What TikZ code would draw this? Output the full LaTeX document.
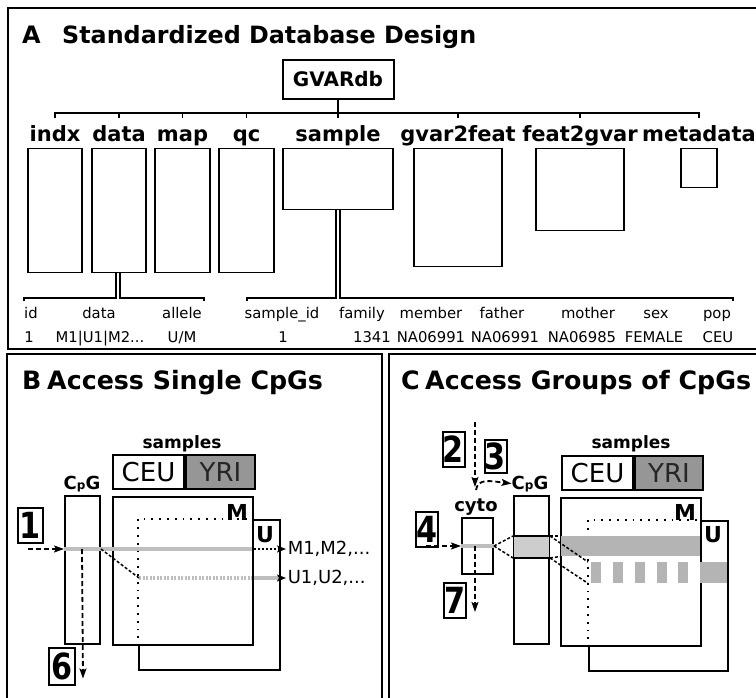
\documentclass[tikz,border=0pt]{standalone}
\usepackage{fontspec}
\setmainfont{DejaVu Sans}
\usetikzlibrary{arrows.meta, positioning, calc}

\definecolor{rowgray}{RGB}{190,190,190}
\definecolor{bandgray}{RGB}{180,180,180}
\definecolor{cellgray}{RGB}{150,150,150}
\definecolor{slicegray}{RGB}{205,205,205}

\newcommand{\fs}[1]{\fontsize{#1}{#1}\selectfont}
\newcommand{\tagnum}[1]{\scalebox{0.84}[1]{#1}}
\newcommand{\cpg}{{\fs{18}C}{\fs{12}p}{\fs{18}G}}

\tikzset{
  panel/.style={draw, line width=2pt},
  ptitle/.style={font=\fs{25.3}\bfseries, anchor=base west, inner sep=0pt},
  tname/.style={font=\fs{21}\bfseries, anchor=base, inner sep=0pt},
  tbl/.style={draw, line width=1.3pt, inner sep=0pt, anchor=north},
  link/.style={line width=1.3pt},
  col/.style={font=\fs{14.8}, anchor=base, inner sep=0pt},
  box/.style={draw, line width=2pt, inner sep=0pt},
  cell/.style={draw, line width=2pt, inner sep=0pt, minimum height=34, font=\fs{26}},
  tag/.style={font=\fs{22}\bfseries, inner sep=0pt},
  numbox/.style={draw, line width=2pt, inner sep=0pt, minimum width=22, minimum height=35,
    font=\fs{36}\bfseries},
  flow/.style={line width=1.8pt, dash pattern=on 5pt off 3pt,
    -{Stealth[length=10pt, width=7pt, inset=2pt]}},
  guide/.style={line width=1.5pt, dash pattern=on 3pt off 2pt},
  outarrow/.style={line width=1.5pt, dash pattern=on 2pt off 2pt,
    -{Stealth[length=9pt, width=7pt, inset=2pt]}},
  hidden/.style={line width=1.8pt, dash pattern=on 1.8pt off 6pt},
  mrow/.style={line width=4pt, draw=rowgray},
  urow/.style={line width=4pt, draw=rowgray},
}

\begin{document}
\begin{tikzpicture}[x=1pt, y=-1pt]
\useasboundingbox (0,0) rectangle (756,698);
\clip (0,0) rectangle (756,698);

% frames of the three panels
\draw[panel] (8,8) rectangle (770,349);
\draw[panel] (7,354) rectangle (382,712);
\draw[panel] (389,354) rectangle (770,712);

% ---------------- A: database layout
\node[ptitle, font=\fs{24}\bfseries] (letA) at (22,44) {A};
\node[ptitle, font=\fs{23.8}\bfseries] (titA) at (62,44) {Standardized Database Design};
\node[box, font=\fs{20}\bfseries, minimum width=111, minimum height=39] (gvar) at (338,79.5) {GVARdb};

\foreach \nm/\cx/\w/\h in {indx/55/54/124, data/119/54/124, map/182.5/55/124, qc/246.5/55/124,
    sample/338/110/61, gvar2feat/458/88/118, feat2gvar/580/88/82, metadata/699/36/39} {
  \node[tname] (lbl-\nm) at (\cx,142) {\nm};
  \node[tbl, minimum width=\w, minimum height=\h] (tab-\nm) at (\cx,148) {};
}

% tree from GVARdb to the tables
\coordinate (bus) at (0,113);
\draw[link] ($(tab-indx.north |- bus)+(0,5)$) -- (tab-indx.north |- bus)
  -- (tab-metadata.north |- bus) -- ++(0,5);
\foreach \nm in {data,map,qc,gvar2feat,feat2gvar}
  \draw[link] (tab-\nm.north |- bus) -- ++(0,5);
\draw[link] (gvar.south) -- ($(tab-sample.north |- bus)+(0,5)$);

% columns of data and sample
\coordinate (colD-l) at (24,301);
\coordinate (colD-r) at (204,301);
\coordinate (colS-l) at (247,301);
\coordinate (colS-r) at (733,301);
\draw[link] ($(tab-data.south)+(-3,0)$) |- ($(colD-l)+(0,-3)$) -- (colD-l);
\draw[link] ($(tab-data.south)+(1,0)$) |- ($(colD-r)+(0,-3)$) -- (colD-r);
\draw[link] ($(tab-sample.south)+(-2,0)$) |- ($(colS-l)+(0,-3)$) -- (colS-l);
\draw[link] ($(tab-sample.south)+(2,0)$) |- ($(colS-r)+(0,-3)$) -- (colS-r);

\foreach \hx/\hd/\vx/\val [count=\i] in {31/id/29/1, 99/data/100/{M1|U1|M2...}, 182/allele/182/{U/M},
    282/sample\_id/283/1, 362/family/372/1341, 431/member/431/NA06991, 502/father/505/NA06991,
    588/mother/582/NA06985, 656/sex/654/FEMALE, 717/pop/718/CEU} {
  \node[col] (hd-\i) at (\hx,318) {\hd};
  \node[col] (val-\i) at (\vx,342) {\val};
}

% ---------------- B: one CpG
\node[ptitle] (letB) at (22,389) {B};
\node[ptitle] (titB) at (47,389) {Access Single CpGs};
\node[font=\fs{17}\bfseries, anchor=base, inner sep=0pt] (smpB) at (182,448) {samples};
\node[cell, anchor=north west, minimum width=71] (ceuB) at (112,454) {CEU};
\node[cell, fill=cellgray, anchor=west, minimum width=69, text=black!85] (yriB) at (ceuB.east) {YRI};

\node[font=\bfseries, anchor=base, inner sep=0pt] (cpglB) at (82,489) {\cpg};
\node[box, anchor=north west, minimum width=35, minimum height=148] (cpgB) at (64,495) {};

\node[box, anchor=north west, minimum width=141, minimum height=150] (uB) at (138,519) {};
\node[box, fill=white, anchor=north west, minimum width=140, minimum height=148] (mB) at (112,496) {};
\draw[hidden] (uB.west |- mB.south) |- (mB.east |- uB.north);
\node[tag] (mlB) at (237,512) {M};
\node[tag] (ulB) at (265,535) {U};

\coordinate (hitB) at (64,549);
\coordinate (uhitB) at (139,578);
\draw[mrow] (hitB) -- ($(mB.east |- hitB)+(-2,0)$);
\draw[urow, line width=4pt, dash pattern=on 2pt off 1.5pt] (uhitB) -- ($(mB.east |- uhitB)+(-2,0)$);
\draw[urow] (mB.east |- uhitB) -- (uB.east |- uhitB);
\draw[guide] (cpgB.east |- hitB) -- (uhitB);
\draw[outarrow] (mB.east |- hitB) -- ++(32,0) node[anchor=west, font=\fs{18}, inner sep=1pt] (outM) {M1,M2,...};
\draw[outarrow] (uB.east |- uhitB) -- ++(5,0) node[anchor=west, font=\fs{18}, inner sep=1pt] (outU) {U1,U2,...};

\node[numbox, minimum width=25] (n1) at (30.5,525.5) {\tagnum{1}};
\node[numbox, minimum width=26, minimum height=37] (n6) at (62,666.5) {\tagnum{6}};
\draw[flow] ($(hitB)+(-36,0)$) -- (hitB);
\draw[flow] ($(hitB)+(18,0)$) -- ($(n6.east)+(7,12)$);

% ---------------- C: a region of CpGs
\node[ptitle] (letC) at (401,389) {C};
\node[ptitle] (titC) at (425,389) {Access Groups of CpGs};
\node[font=\fs{17}\bfseries, anchor=base, inner sep=0pt] (smpC) at (631,448) {samples};
\node[cell, anchor=north west, minimum width=71] (ceuC) at (561,455) {CEU};
\node[cell, fill=cellgray, anchor=west, minimum width=68, text=black!85] (yriC) at (ceuC.east) {YRI};

\node[font=\fs{18}\bfseries, anchor=base, inner sep=0pt] (cytolC) at (476,511) {cyto};
\node[box, anchor=north west, minimum width=31, minimum height=56] (cytoC) at (461,517) {};
\node[font=\bfseries, anchor=base, inner sep=0pt] (cpglC) at (530,489) {\cpg};
\node[box, anchor=north west, minimum width=35, minimum height=148] (cpgC) at (513,495) {};
\node[box, fill=slicegray, draw=none, anchor=north west, minimum width=35, minimum height=20] (bandC) at (513,536) {};
\draw[line width=2pt] (bandC.north west) -- (bandC.north east) (bandC.south west) -- (bandC.south east);

\node[box, anchor=north west, minimum width=139, minimum height=150] (uC) at (588,520) {};
\node[box, fill=white, anchor=north west, minimum width=140, minimum height=148] (mC) at (560,497) {};
\draw[hidden] (uC.west |- mC.south) |- (mC.east |- uC.north);

\node[fill=bandgray, inner sep=0pt, anchor=north west, minimum width=139, minimum height=20] (mbandC) at (561,536) {};
\foreach \bx [count=\k] in {591,613,635,657,678}
  \node[fill=bandgray, inner sep=0pt, anchor=north west, minimum width=10, minimum height=21] (ub\k) at (\bx,562) {};
\node[fill=bandgray, inner sep=0pt, anchor=north west, minimum width=27, minimum height=21] (ubandC) at (700,562) {};
\node[tag] (mlC) at (685,512) {M};
\node[tag] (ulC) at (713,535) {U};

\coordinate (hitC) at (461,546);
\draw[line width=4pt, draw=rowgray] (hitC) -- (cytoC.east |- hitC);
\draw[guide] (cytoC.east |- hitC) -- (bandC.north west);
\draw[guide] (cytoC.east |- hitC) -- (bandC.south west);
\draw[guide] (bandC.north east) -- (mbandC.north west);
\draw[guide] (bandC.south east) -- (mbandC.south west);
\draw[guide] (bandC.north east) -- ($(ub1.north west)+(-3,0)$);
\draw[guide] (bandC.south east) -- ($(ub1.south west)+(-3,0)$);

\node[numbox] (n2) at (453.5,449.5) {\tagnum{2}};
\node[numbox, minimum height=33] (n3) at (495.5,456.5) {\tagnum{3}};
\node[numbox] (n4) at (427,529.5) {\tagnum{4}};
\node[numbox] (n7) at (455,600.5) {\tagnum{7}};
\coordinate (topC) at (475,422);
\draw[flow] (topC) -- (475,487);
\draw[flow] (476,490) .. controls (478,478) and (490,481) .. (cpglC.west);
\draw[flow] ($(hitC)+(-35,0)$) -- (hitC);
\draw[flow] ($(hitC)+(14,0)$) -- (475,612);
\end{tikzpicture}
\end{document}
